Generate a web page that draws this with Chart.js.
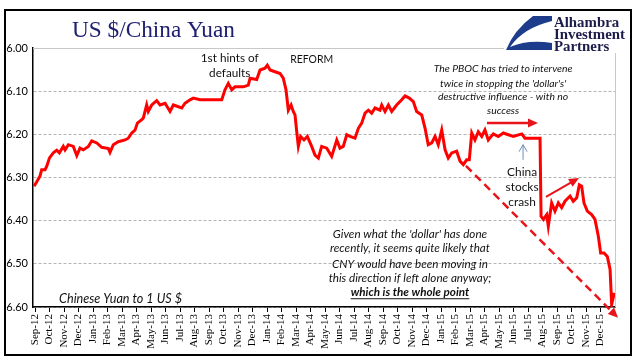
<!DOCTYPE html>
<html><head><meta charset="utf-8">
<script src="https://cdn.jsdelivr.net/npm/chart.js@4"></script>
<style>html,body{margin:0;padding:0;background:#fff;}canvas{display:block;}</style>
</head><body>
<canvas id="c" width="641" height="361"></canvas>
<script>
// ---- data ----
const monthLabels = ['Sep-12','Oct-12','Nov-12','Dec-12',
 'Jan-13','Feb-13','Mar-13','Apr-13','May-13','Jun-13','Jul-13','Aug-13','Sep-13','Oct-13','Nov-13','Dec-13',
 'Jan-14','Feb-14','Mar-14','Apr-14','May-14','Jun-14','Jul-14','Aug-14','Sep-14','Oct-14','Nov-14','Dec-14',
 'Jan-15','Feb-15','Mar-15','Apr-15','May-15','Jun-15','Jul-15','Aug-15','Sep-15','Oct-15','Nov-15','Dec-15'];
const yTicks = [6.00, 6.10, 6.20, 6.30, 6.40, 6.50, 6.60];
// time in months since Sep-2012
const tMonths = [-0.07,0.12,0.34,0.46,0.69,0.81,0.99,1.26,1.50,1.68,
 1.95,2.07,2.30,2.64,2.88,3.10,3.33,3.68,3.91,4.26,
 4.60,5.06,5.17,5.40,5.74,6.21,6.43,6.67,6.90,7.06,
 7.36,7.47,7.70,7.81,8.05,8.39,8.62,8.97,9.31,9.54,
 10.12,10.34,10.69,10.92,11.38,12.07,12.88,13.10,13.33,13.57,
 13.79,14.37,14.71,14.83,15.29,15.52,15.86,16.02,16.21,16.55,
 16.90,17.12,17.31,17.47,17.66,17.81,17.93,18.05,18.16,18.32,
 18.55,18.78,19.08,19.31,19.54,19.77,20.12,20.46,20.81,21.03,
 21.26,21.50,21.72,22.07,22.30,22.53,22.76,22.99,23.22,23.45,
 23.79,23.91,24.14,24.37,24.60,24.94,25.29,25.52,25.81,26.09,
 26.32,26.67,26.90,27.12,27.36,27.59,27.81,28.05,28.28,28.50,
 28.74,29.08,29.31,29.54,29.77,29.95,30.12,30.34,30.57,30.81,
 31.03,31.26,31.61,31.95,32.30,32.64,32.99,33.57,33.79,34.83,
 34.90,35.06,35.29,35.40,35.63,35.86,36.09,36.32,36.55,36.90,
 37.12,37.36,37.54,37.70,37.86,38.09,38.39,38.62,38.85,39.01,
 39.24,39.47,39.66,39.77,39.88,39.95];
const cnyPerUsd = [6.320,6.310,6.297,6.282,6.282,6.274,6.255,6.243,6.237,6.243,
 6.228,6.236,6.224,6.228,6.249,6.232,6.236,6.228,6.215,6.220,
 6.230,6.233,6.242,6.224,6.217,6.213,6.209,6.197,6.190,6.174,
 6.166,6.162,6.132,6.147,6.132,6.122,6.132,6.128,6.147,6.132,
 6.139,6.128,6.120,6.116,6.120,6.120,6.120,6.097,6.082,6.097,
 6.090,6.090,6.086,6.070,6.073,6.051,6.047,6.040,6.051,6.055,
 6.059,6.070,6.097,6.144,6.132,6.147,6.155,6.194,6.228,6.205,
 6.213,6.205,6.228,6.248,6.255,6.228,6.232,6.251,6.213,6.232,
 6.228,6.201,6.205,6.209,6.186,6.174,6.151,6.144,6.151,6.139,
 6.144,6.132,6.147,6.132,6.147,6.132,6.120,6.111,6.116,6.124,
 6.147,6.155,6.186,6.224,6.220,6.205,6.224,6.190,6.236,6.255,
 6.243,6.239,6.262,6.270,6.259,6.259,6.197,6.213,6.194,6.205,
 6.190,6.213,6.199,6.205,6.197,6.201,6.205,6.199,6.209,6.209,
 6.390,6.397,6.386,6.413,6.359,6.378,6.359,6.370,6.355,6.343,
 6.355,6.347,6.317,6.320,6.359,6.378,6.386,6.397,6.436,6.475,
 6.475,6.483,6.513,6.594,6.578,6.567];

const SANS = 'Lato, "Open Sans", sans-serif';
const SERIF = '"Liberation Serif", "Times New Roman", serif';

// annotations, placed in data coordinates (month, value)
const notes = [
  {lines:['1st hints of','defaults'], m:13.43, v:[6.024,6.059], width:58, style:'normal'},
  {lines:['REFORM'], m:19.08, v:[6.026], width:43, style:'normal'},
  {lines:['The PBOC has tried to intervene',"twice in stopping the 'dollar's'",'destructive influence - with no','success'],
   m:32.28, v:[6.047,6.082,6.113,6.144], width:139, style:'italic'},
  {lines:['China','stocks','crash'], m:33.59, v:[6.287,6.322,6.356], width:33, style:'normal'},
  {lines:["Given what the 'dollar' has done",'recently, it seems quite likely that','CNY would have been moving in','this direction if left alone anyway;','which is the whole point'],
   m:25.86, v:[6.431,6.465,6.501,6.533,6.566], width:163, style:'italic', boldLast:true},
  {lines:['Chinese Yuan to 1 US $'], m:1.66, v:[6.581], width:123, style:'italic', align:'left'}
];
const arrows = [
  {from:[31.17,6.174], to:[34.69,6.174], color:'#e8141b', w:2.5, head:'fill'},
  {from:[35.24,6.345], to:[37.52,6.301], color:'#e8141b', w:2, head:'fill'},
  {from:[33.66,6.259], to:[33.66,6.224], color:'#6b8fb8', w:1, head:'open'},
  {from:[29.72,6.273], to:[40.21,6.625], color:'#e8141b', w:2.5, head:'fill', dash:[8,5]}
];

function fitSize(ctx, lines, width, style, weight, family){
  ctx.font = `${style} ${weight} 20px ${family}`;
  let mw = 0; lines.forEach(l => { mw = Math.max(mw, ctx.measureText(l).width); });
  return 20 * width / mw;
}
function drawArrow(ctx, x1, y1, x2, y2, a){
  const ang = Math.atan2(y2-y1, x2-x1);
  const hl = a.head === 'fill' ? 10 : 7, hw = a.head === 'fill' ? 4.5 : 4;
  ctx.save();
  ctx.strokeStyle = a.color; ctx.fillStyle = a.color; ctx.lineWidth = a.w;
  ctx.setLineDash(a.dash || []);
  const ex = a.head === 'fill' ? x2 - Math.cos(ang)*hl*0.8 : x2;
  const ey = a.head === 'fill' ? y2 - Math.sin(ang)*hl*0.8 : y2;
  ctx.beginPath(); ctx.moveTo(x1, y1); ctx.lineTo(ex, ey); ctx.stroke();
  ctx.setLineDash([]);
  const bx = x2 - Math.cos(ang)*hl, by = y2 - Math.sin(ang)*hl;
  const px = -Math.sin(ang)*hw, py = Math.cos(ang)*hw;
  ctx.beginPath();
  if (a.head === 'fill') {
    ctx.moveTo(x2, y2); ctx.lineTo(bx+px, by+py); ctx.lineTo(bx-px, by-py); ctx.closePath(); ctx.fill();
  } else {
    ctx.moveTo(bx+px, by+py); ctx.lineTo(x2, y2); ctx.lineTo(bx-px, by-py); ctx.stroke();
  }
  ctx.restore();
}

const extras = {
  id:'extras',
  beforeDraw(chart){
    const c = chart.ctx; c.save(); c.fillStyle = '#fff'; c.fillRect(0,0,chart.width,chart.height); c.restore();
  },
  afterDraw(chart){
    const c = chart.ctx, a = chart.chartArea, xs = chart.scales.x, ys = chart.scales.y;
    const X = m => xs.getPixelForValue(m), Y = v => ys.getPixelForValue(v);
    c.save();
    // plot-area top and right border
    c.strokeStyle = '#c8c8c8'; c.lineWidth = 1;
    c.beginPath(); c.moveTo(a.left, a.top+0.5); c.lineTo(a.right+0.5, a.top+0.5); c.lineTo(a.right+0.5, a.bottom); c.stroke();
    // outer frame
    c.strokeStyle = '#000'; c.lineWidth = 2; c.strokeRect(5, 10, 626, 345);
    // title
    c.fillStyle = '#1f2070'; c.textBaseline = 'alphabetic'; c.textAlign = 'left';
    const ts = fitSize(c, ['US $/China Yuan'], 163, 'normal', 'normal', SERIF);
    c.font = `normal normal ${ts}px ${SERIF}`; c.fillText('US $/China Yuan', 72, 37);
    // logo
    c.fillStyle = '#fff'; c.fillRect(504, 11, 125, 42);
    c.fillStyle = '#1e3c8c';
    c.beginPath(); c.moveTo(533,16); c.lineTo(552,16); c.lineTo(552,50); c.lineTo(506,50); c.quadraticCurveTo(514,30,533,16); c.closePath(); c.fill();
    c.fillStyle = '#fff';
    c.beginPath(); c.moveTo(552,21); c.quadraticCurveTo(523,28,510,47); c.quadraticCurveTo(528,39,552,43); c.closePath(); c.fill();
    c.fillStyle = '#1c1c4a';
    const ls = fitSize(c, ['Investment'], 71, 'normal', 'bold', SERIF);
    c.font = `normal bold ${ls}px ${SERIF}`;
    c.fillText('Alhambra', 554, 27); c.fillText('Investment', 554, 39); c.fillText('Partners', 554, 51);
    // annotations
    c.fillStyle = '#111'; c.textBaseline = 'middle';
    notes.forEach(n => {
      const sz = fitSize(c, n.boldLast ? n.lines.slice(0,-1) : n.lines, n.width, n.style, 'normal', SANS);
      c.textAlign = n.align || 'center';
      n.lines.forEach((l, i) => {
        const bold = n.boldLast && i === n.lines.length-1;
        c.font = `${n.style} ${bold ? 'bold' : 'normal'} ${sz}px ${SANS}`;
        const x = X(n.m), y = Y(n.v[i]);
        c.fillText(l, x, y);
        if (bold) {
          const w = c.measureText(l).width;
          c.strokeStyle = '#111'; c.lineWidth = 1;
          c.beginPath(); c.moveTo(x - w/2, y + sz*0.55); c.lineTo(x + w/2, y + sz*0.55); c.stroke();
        }
      });
    });
    arrows.forEach(ar => drawArrow(c, X(ar.from[0]), Y(ar.from[1]), X(ar.to[0]), Y(ar.to[1]), ar));
    c.restore();
  }
};

new Chart(document.getElementById('c'), {
  type:'line',
  data:{datasets:[{
    data: tMonths.map((t, i) => ({x:t, y:cnyPerUsd[i]})),
    borderColor:'#ff0000', borderWidth:3, pointRadius:0, tension:0, fill:false
  }]},
  options:{
    responsive:false, animation:false, devicePixelRatio:1,
    layout:{padding:{left:4, top:48, right:26, bottom:10}},
    plugins:{legend:{display:false}, tooltip:{enabled:false}, title:{display:false}},
    scales:{
      x:{type:'linear', min:-0.14, max:40.0,
        afterBuildTicks: s => { s.ticks = monthLabels.map((_, i) => ({value:i})); },
        afterFit: s => { s.height = 44; },
        grid:{drawOnChartArea:false, drawTicks:true, tickLength:5, color:'#000', lineWidth:1},
        border:{display:true, color:'#000', width:1.5},
        ticks:{autoSkip:false, minRotation:90, maxRotation:90, padding:2, color:'#000',
          font:{family:SERIF, size:11}, callback:(v) => monthLabels[Math.round(v)] ?? ''}
      },
      y:{type:'linear', reverse:true, min:6.0, max:6.6,
        afterBuildTicks: s => { s.ticks = yTicks.map(v => ({value:v})); },
        afterFit: s => { s.width = 29; },
        grid:{color:'#b4b4b4', lineWidth:1, drawTicks:false},
        border:{display:true, color:'#000', width:1.5, dash:[3,2]},
        ticks:{padding:5, color:'#000', font:{family:SANS, size:11}, callback: v => Number(v).toFixed(2)}
      }
    }
  },
  plugins:[extras]
});
</script>
</body></html>
